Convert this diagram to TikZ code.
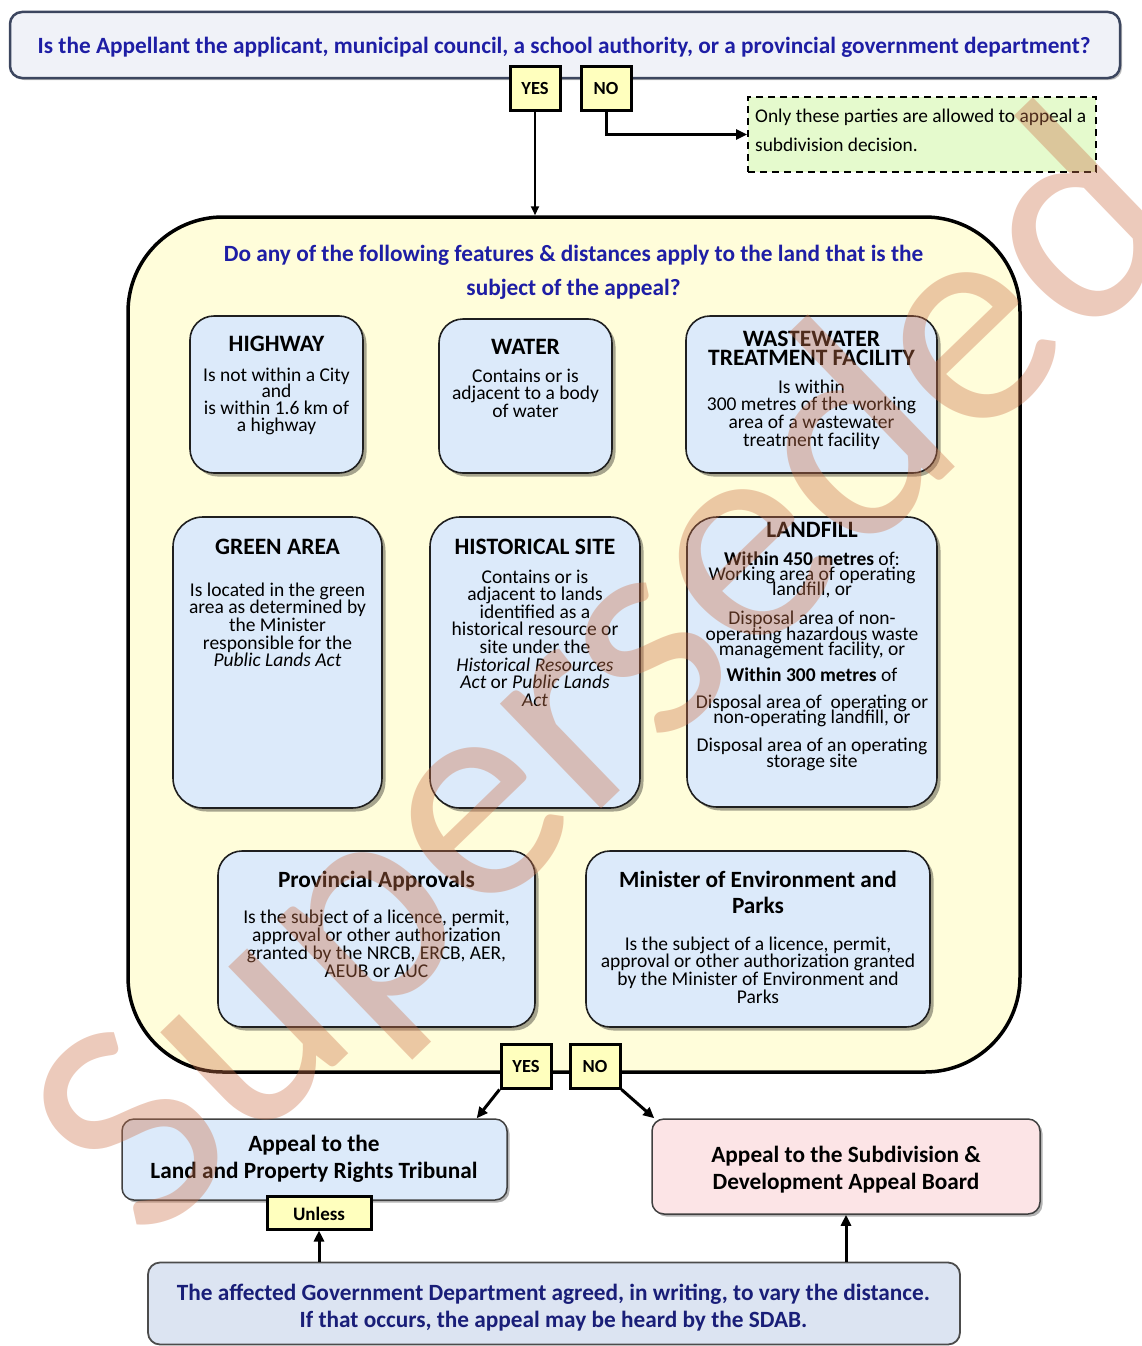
\documentclass[tikz,border=0pt]{standalone}
\usepackage{fontspec}
\setmainfont{Carlito}
\usetikzlibrary{arrows.meta,shadows,calc}
\definecolor{qblue}{RGB}{30,30,165}
\definecolor{dblue}{RGB}{25,30,120}
\definecolor{topfill}{RGB}{240,242,248}
\definecolor{topdraw}{RGB}{60,70,95}
\definecolor{ynfill}{RGB}{255,255,190}
\definecolor{grfill}{RGB}{229,250,205}
\definecolor{bigfill}{RGB}{255,253,218}
\definecolor{ibfill}{RGB}{220,234,250}
\definecolor{pkfill}{RGB}{252,228,230}
\definecolor{btfill}{RGB}{220,228,242}
\definecolor{wmark}{RGB}{205,115,75}
\newcommand\mlines[2]{\vtop{\baselineskip=#1\lineskiplimit=-100pt\lineskip=0pt\let\\\cr\halign{\hfil##\hfil\cr#2\crcr}}}
\newcommand\gapp[1]{\noalign{\vskip#1}}
\newcommand\bdyf{\fontsize{19.5}{18}\selectfont}
\newcommand\ttlf{\fontsize{23.5}{22}\selectfont\bfseries}
\newcommand\qf{\fontsize{23.3}{24}\selectfont\bfseries}
\tikzset{
  ibox/.style={draw=black!88, line width=1.6pt, fill=ibfill, rounded corners=24pt, inner sep=0pt,
    drop shadow={shadow xshift=3.5pt, shadow yshift=-3.5pt, opacity=.35, fill=black}},
  yn/.style={draw=black, line width=3pt, fill=ynfill, minimum width=50pt, minimum height=43pt,
    inner sep=0pt, font=\fontsize{18.5}{20}\selectfont\bfseries},
  ttl/.style={anchor=base, inner sep=0pt, font=\ttlf},
  bdl/.style={anchor=base, inner sep=0pt, font=\bdyf},
  qtx/.style={anchor=base, inner sep=0pt, font=\qf},
  arr/.style={-{Triangle[length=11pt,width=10pt]}, line width=3pt},
}
\begin{document}
\begin{tikzpicture}[x=1pt,y=-1pt]
\useasboundingbox (0,0) rectangle (1142,1346);
% top question
\node[draw=topdraw, line width=2.5pt, fill=topfill, rounded corners=12pt, minimum width=1110pt,
  minimum height=66pt, inner sep=0pt, drop shadow={shadow xshift=2pt, shadow yshift=-2pt, opacity=.25, fill=black}] (q) at (565,45) {};
\node[qtx, text=qblue] (qt) at (564,53) {Is the Appellant the applicant, municipal council, a school authority, or a provincial government department?};
\node[yn] (yes1) at (535,88.5) {YES};
\node[yn] (no1) at (606,88.5) {NO};
% green note
\node[draw, dashed, dash pattern=on 7pt off 5pt, line width=1.8pt, fill=grfill, minimum width=348pt, minimum height=75pt, inner sep=0pt] (gr) at (922,134.5) {};
\node[anchor=base west, inner sep=0pt, font=\fontsize{19.4}{20}\selectfont] (gr1) at (755,122) {Only these parties are allowed to appeal a};
\node[anchor=base west, inner sep=0pt, font=\fontsize{19.4}{20}\selectfont] (gr2) at (755,151) {subdivision decision.};
% big box
\node[draw=black, line width=3.5pt, fill=bigfill, rounded corners=95pt, minimum width=892pt, minimum height=855pt, inner sep=0pt] (big) at (574,644.5) {};
\draw[line width=2pt, -{Triangle[length=9pt,width=8pt]}] (yes1.south) -- (yes1.south |- big.north);
\draw[arr] (no1.south) |- (gr.west);
\node[qtx, text=qblue] (bt1) at (573.5,261) {Do any of the following features \& distances apply to the land that is the};
\node[qtx, text=qblue] (bt2) at (573.5,295) {subject of the appeal?};
% HIGHWAY
\node[ibox, minimum width=173pt, minimum height=157pt] (hw) at (276.5,394.5) {};
\node[ttl] (hwT) at (276.5,351) {HIGHWAY};
\node[bdl] (hwB) at (276.5,381) {\mlines{16.8pt}{Is not within a City\\and\\is within 1.6 km of\\a highway}};
% WATER
\node[ibox, minimum width=173pt, minimum height=154pt] (wa) at (525.5,396) {};
\node[ttl] (waT) at (525.5,354) {WATER};
\node[bdl] (waB) at (525.5,382) {\mlines{17.5pt}{Contains or is\\adjacent to a body\\of water}};
% WASTEWATER
\node[ibox, minimum width=251pt, minimum height=157pt] (ww) at (811.5,394.5) {};
\node[ttl] (wwT) at (811.5,346) {\mlines{19pt}{WASTEWATER\\TREATMENT FACILITY}};
\node[bdl] (wwB) at (811.5,393) {\mlines{17.7pt}{Is within\\300 metres of the working\\area of a wastewater\\treatment facility}};
% GREEN AREA
\node[ibox, rounded corners=30pt, minimum width=209pt, minimum height=291pt] (ga) at (277.5,662.5) {};
\node[ttl] (gaT) at (277.5,554) {GREEN AREA};
\node[bdl] (gaB) at (277.5,596) {\mlines{17.7pt}{Is located in the green\\area as determined by\\the Minister\\responsible for the\\\textit{Public Lands Act}}};
% HISTORICAL SITE
\node[ibox, rounded corners=30pt, minimum width=210pt, minimum height=291pt] (hs) at (535,662.5) {};
\node[ttl] (hsT) at (535,554) {HISTORICAL SITE};
\node[bdl] (hsB) at (535,583) {\mlines{17.6pt}{Contains or is\\adjacent to lands\\identified as a\\historical resource or\\site under the\\\textit{Historical Resources}\\\textit{Act} or \textit{Public Lands}\\\textit{Act}}};
% LANDFILL
\node[ibox, rounded corners=30pt, minimum width=250pt, minimum height=290pt] (lf) at (812,662) {};
\node[ttl] (lfT) at (812,537) {LANDFILL};
\node[bdl] (lfB) at (812,565) {\mlines{15.3pt}{\textbf{Within 450 metres} of:\\Working area of operating\\landfill, or\\\gapp{14pt}Disposal area of non-\\operating hazardous waste\\management facility, or\\\gapp{11pt}\textbf{Within 300 metres} of\\\gapp{11pt}Disposal area of\ \ operating or\\non-operating landfill, or\\\gapp{13pt}Disposal area of an operating\\storage site}};
% Provincial approvals
\node[ibox, minimum width=317pt, minimum height=176pt] (pa) at (376.5,939) {};
\node[ttl, font=\fontsize{23.3}{24}\selectfont\bfseries] (paT) at (376.5,887) {Provincial Approvals};
\node[bdl] (paB) at (376.5,923) {\mlines{18pt}{Is the subject of a licence, permit,\\approval or other authorization\\granted by the NRCB, ERCB, AER,\\AEUB or AUC}};
% Minister
\node[ibox, minimum width=344pt, minimum height=176pt] (me) at (758,939) {};
\node[ttl, font=\fontsize{23.3}{24}\selectfont\bfseries] (meT) at (758,887) {\mlines{26pt}{Minister of Environment and\\Parks}};
\node[bdl] (meB) at (758,950) {\mlines{17.8pt}{Is the subject of a licence, permit,\\approval or other authorization granted\\by the Minister of Environment and\\Parks}};
% bottom yes/no
\node[yn, minimum height=44pt] (yes2) at (526,1066) {YES};
\node[yn, minimum height=44pt] (no2) at (595,1066) {NO};
% outcomes
\node[draw=black!75, line width=1.5pt, fill=ibfill, rounded corners=12pt, minimum width=385pt, minimum height=81pt, inner sep=0pt,
  drop shadow={shadow xshift=2.5pt, shadow yshift=-2.5pt, opacity=.3, fill=black}] (lprt) at (314.5,1159.5) {};
\node[qtx] (lprt1) at (314,1151) {Appeal to the};
\node[qtx] (lprt2) at (314,1178) {Land and Property Rights Tribunal};
\node[draw=black!75, line width=1.5pt, fill=pkfill, rounded corners=12pt, minimum width=388pt, minimum height=95pt, inner sep=0pt,
  drop shadow={shadow xshift=2.5pt, shadow yshift=-2.5pt, opacity=.3, fill=black}] (sdab) at (846,1166.5) {};
\node[qtx] (sdab1) at (846,1162) {Appeal to the Subdivision \&};
\node[qtx] (sdab2) at (846,1189) {Development Appeal Board};
\node[draw=black, line width=3pt, fill=ynfill, minimum width=104pt, minimum height=33pt, inner sep=0pt] (unl) at (319,1212.5) {};
\node[anchor=base, inner sep=0pt, font=\fontsize{19}{20}\selectfont\bfseries] (unlT) at (319,1220) {Unless};
\node[draw=black!70, line width=1.8pt, fill=btfill, rounded corners=12pt, minimum width=812pt, minimum height=82pt, inner sep=0pt] (bot) at (554,1303.5) {};
\node[qtx, text=dblue] (bot1) at (553.5,1300) {The affected Government Department agreed, in writing, to vary the distance.};
\node[qtx, text=dblue] (bot2) at (553.5,1327) {If that occurs, the appeal may be heard by the SDAB.};
% connectors
\draw[arr] (yes2.south west) -- ([xshift=-31pt]lprt.north east);
\draw[arr] (no2.south east) -- ([xshift=3pt]sdab.north west);
\draw[arr] (bot.north -| unl) -- (unl.south);
\draw[arr] (bot.north -| sdab) -- (sdab.south);
% watermark
\node[rotate=44, inner sep=0pt, font=\fontsize{305}{305}\selectfont, text=wmark, opacity=0.38] (wm) at (615,683) {Superseded};
\end{tikzpicture}
\end{document}
